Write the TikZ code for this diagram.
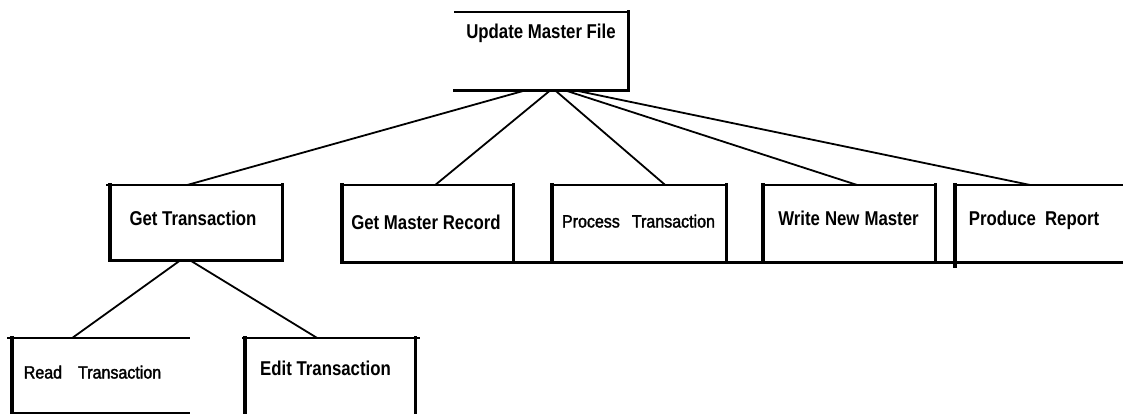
\documentclass[tikz,border=0pt]{standalone}
\usepackage{fontspec}
\setmainfont{Liberation Sans}
\newfontfamily\mainlbl[FakeStretch=0.84]{Liberation Sans Bold}
\newfontfamily\lightlbl[FakeBold=1.8,FakeStretch=0.9]{Liberation Sans}
\begin{document}
\begin{tikzpicture}[x=1pt,y=-1pt,
  box/.style={draw=none,inner sep=0pt,anchor=north west},
  edge/.style={line width=2.6pt,line cap=rect},
  heavy/.style={line width=3.6pt,line cap=rect},
  link/.style={line width=1.8pt},
  lbl/.style={anchor=base,inner sep=0pt,font=\mainlbl\fontsize{20}{22}\selectfont},
  lbll/.style={anchor=base,inner sep=0pt,font=\lightlbl\fontsize{17.8}{20}\selectfont}]
\useasboundingbox (0,0) rectangle (1123,414);
\fill[white] (0,0) rectangle (1123,414);

% boxes (invisible named frames)
\node[box,minimum width=173pt,minimum height=78pt] (umf) at (455,12) {};
\node[box,minimum width=172pt,minimum height=75pt] (gt) at (110,185) {};
\node[box,minimum width=176pt,minimum height=75pt] (rt) at (12,338) {};
\node[box,minimum width=170pt,minimum height=76pt] (et) at (245,338) {};
\node[box,minimum width=171pt,minimum height=77pt] (gm) at (342,185) {};
\node[box,minimum width=174pt,minimum height=77pt] (pt) at (552,185) {};
\node[box,minimum width=172pt,minimum height=77pt] (wn) at (763,185) {};
\node[box,minimum width=168pt,minimum height=77pt] (pr) at (955,185) {};

% labels
\node[lbl] (umft) at (541,38.5) {Update Master File};
\node[lbl] (gtt) at (193,225.5) {Get Transaction};
\node[lbl] (gmt) at (426,229) {Get Master Record};
\node[lbll] (ptt) at (638.5,227.5) {Process\hspace{12pt}Transaction};
\node[lbl] (wnt) at (848.5,225.5) {Write\hspace{5pt}New\hspace{5pt}Master};
\node[lbl] (prt) at (1034,225.5) {Produce\hspace{9pt}Report};
\node[lbll] (rtt) at (92.5,378.5) {Read\hspace{16pt}Transaction};
\node[lbl] (ett) at (325.5,375.5) {Edit Transaction};

% Update Master File frame
\draw[edge] (umf.north west) -- (umf.north east);
\draw[heavy] (umf.north east) -- (umf.south east);
\draw[heavy] (umf.south west) -- (umf.south east);

% Get Transaction frame
\draw[edge] ([xshift=-3pt]gt.north west) -- (gt.north east);
\draw[heavy] (gt.north west) -- (gt.south west) -- (gt.south east) -- (gt.north east);

% Read Transaction frame
\draw[edge] ([xshift=-4pt]rt.north west) -- (rt.north east);
\draw[heavy] (rt.north west) -- (rt.south west) -- (rt.south east);

% Edit Transaction frame
\draw[edge] ([xshift=-2pt]et.north west) -- ([xshift=3pt]et.north east);
\draw[heavy] (et.south west) -- (et.north west);
\draw[heavy] (et.south east) -- (et.north east);

% second row frames
\draw[edge] (gm.north west) -- (gm.north east);
\draw[heavy] (gm.south west) -- (gm.north west);
\draw[heavy] (gm.south east) -- (gm.north east);
\draw[edge] (pt.north west) -- (pt.north east);
\draw[heavy] (pt.south west) -- (pt.north west);
\draw[heavy] (pt.south east) -- (pt.north east);
\draw[edge] (wn.north west) -- (wn.north east);
\draw[heavy] (wn.south west) -- (wn.north west);
\draw[heavy] (wn.south east) -- (wn.north east);
\draw[edge] (pr.north west) -- (pr.north east);
\draw[heavy] ([yshift=-4pt]pr.south west) -- (pr.north west);
\draw[heavy] (gm.south west) -- (pr.south east);

% connectors
\draw[link] ([xshift=-16.5pt]umf.south) -- ([xshift=-9pt]gt.north);
\draw[link] ([xshift=8.5pt]umf.south) -- ([xshift=7.5pt]gm.north);
\draw[link] ([xshift=13.5pt]umf.south) -- ([xshift=26pt]pt.north);
\draw[link] ([xshift=23.5pt]umf.south) -- ([xshift=8pt]wn.north);
\draw[link] ([xshift=33.5pt]umf.south) -- ([xshift=-9pt]pr.north);
\draw[link] ([xshift=-16pt]gt.south) -- ([xshift=-28pt]rt.north);
\draw[link] ([xshift=-6pt]gt.south) -- ([xshift=-13pt]et.north);
\end{tikzpicture}
\end{document}
